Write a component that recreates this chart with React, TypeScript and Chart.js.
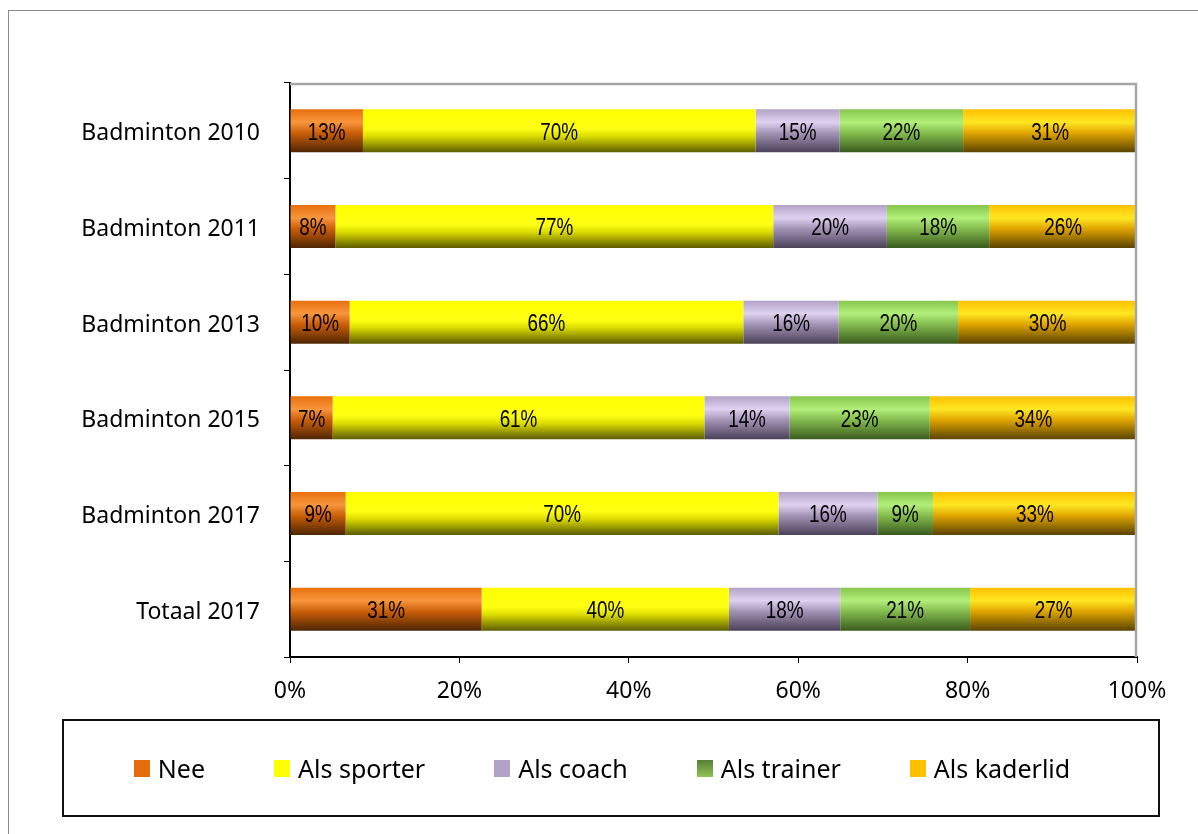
import React, { useEffect, useRef } from 'react';
import { Chart, registerables } from 'chart.js';

Chart.register(...registerables);

// ---- data ----
const categories = ['Badminton 2010', 'Badminton 2011', 'Badminton 2013', 'Badminton 2015', 'Badminton 2017', 'Totaal 2017'];
const seriesNames = ['Nee', 'Als sporter', 'Als coach', 'Als trainer', 'Als kaderlid'];
const nee = [13, 8, 10, 7, 9, 31];
const alsSporter = [70, 77, 66, 61, 70, 40];
const alsCoach = [15, 20, 16, 14, 16, 18];
const alsTrainer = [22, 18, 20, 23, 9, 21];
const alsKaderlid = [31, 26, 30, 34, 33, 27];
const xTickValues = [0, 20, 40, 60, 80, 100];

const seriesValues = [nee, alsSporter, alsCoach, alsTrainer, alsKaderlid];

// ---- styles ----
const BAR_PCT = 0.45;
const gradientStops: [number, string][][] = [
  [[0, '#E8700C'], [0.3, '#F8963D'], [0.55, '#CB5F09'], [1, '#4E2503']],
  [[0, '#FFFF00'], [0.45, '#FFFF14'], [0.62, '#DEDE00'], [1, '#5C5C00']],
  [[0, '#B3A2C7'], [0.3, '#DED2F0'], [0.55, '#A394B6'], [1, '#4A4158']],
  [[0, '#86C64C'], [0.3, '#B2EF7A'], [0.55, '#84BC4E'], [1, '#3A5A1E']],
  [[0, '#FFC000'], [0.3, '#FFE722'], [0.55, '#E0A500'], [1, '#5A4300']],
];
const solidColors = ['#E46C0A', '#FFFF00', '#B3A2C7', '#77A843', '#FFC000'];
const legendSwatches = [
  '#E46C0A',
  '#FFFF00',
  '#B3A2C7',
  'linear-gradient(#5B7D37, #8CC556)',
  '#FFC000',
];
const labelFont = '"Noto Sans", "Open Sans", sans-serif';

const makeBg = (stops: [number, string][], fallback: string) => (ctx: any) => {
  const chart = ctx.chart;
  const ys = chart.scales && chart.scales.y;
  if (!chart.chartArea || !ys || ctx.dataIndex === undefined) return fallback;
  const c = ys.getPixelForValue(ctx.dataIndex);
  const h = (ys.height / categories.length) * BAR_PCT;
  const g = chart.ctx.createLinearGradient(0, c - h / 2, 0, c + h / 2);
  stops.forEach(([o, col]) => g.addColorStop(o, col));
  return g;
};

const plotFrame = {
  id: 'plotFrame',
  afterDatasetsDraw(chart: any) {
    const { ctx, chartArea: a } = chart;
    ctx.save();
    ctx.strokeStyle = '#a6a6a6';
    ctx.lineWidth = 2.5;
    ctx.beginPath();
    ctx.moveTo(a.left, a.top + 1);
    ctx.lineTo(a.right - 1, a.top + 1);
    ctx.lineTo(a.right - 1, a.bottom);
    ctx.stroke();
    ctx.restore();
  },
};

const valueLabels = {
  id: 'valueLabels',
  afterDatasetsDraw(chart: any) {
    const ctx = chart.ctx;
    chart.data.datasets.forEach((_ds: any, di: number) => {
      const meta = chart.getDatasetMeta(di);
      meta.data.forEach((el: any, i: number) => {
        const { x, y, base } = el.getProps(['x', 'y', 'base'], true);
        const cx = (x + base) / 2;
        ctx.save();
        ctx.translate(cx, y + 2.5);
        ctx.scale(0.82, 1);
        ctx.font = '23px "Liberation Sans", Arial, sans-serif';
        ctx.textAlign = 'center';
        ctx.textBaseline = 'middle';
        ctx.fillStyle = '#000';
        ctx.fillText(seriesValues[di][i] + '%', 0, 0);
        ctx.restore();
      });
    });
  },
};

export default function App() {
  const canvasRef = useRef<HTMLCanvasElement | null>(null);

  useEffect(() => {
    if (!canvasRef.current) return;
    const totals = categories.map((_, i) => seriesValues.reduce((s, arr) => s + arr[i], 0));
    const chart = new Chart(canvasRef.current, {
      type: 'bar',
      data: {
        labels: categories,
        datasets: seriesNames.map((name, si) => ({
          label: name,
          data: seriesValues[si].map((v, i) => (v / totals[i]) * 100),
          backgroundColor: makeBg(gradientStops[si], solidColors[si]),
          borderWidth: 0,
          barPercentage: BAR_PCT,
          categoryPercentage: 1,
        })),
      },
      options: {
        indexAxis: 'y',
        responsive: false,
        animation: false,
        events: [],
        layout: { padding: { top: 83, right: 61, bottom: 117, left: 0 } },
        plugins: {
          legend: { display: false },
          tooltip: { enabled: false },
          title: { display: false },
        },
        scales: {
          x: {
            stacked: true,
            min: 0,
            max: 100,
            afterBuildTicks: (s: any) => {
              s.ticks = xTickValues.map((v) => ({ value: v }));
            },
            ticks: {
              callback: (v: any) => v + '%',
              color: '#000',
              font: { family: labelFont, size: 23 },
              padding: 15,
              maxRotation: 0,
              autoSkip: false,
            },
            grid: { drawOnChartArea: false, drawTicks: true, tickLength: 6, color: '#000', lineWidth: 1 },
            border: { color: '#000', width: 2 },
            afterFit: (s: any) => {
              s.height = 60;
            },
          },
          y: {
            stacked: true,
            ticks: {
              color: '#000',
              font: { family: labelFont, size: 23 },
              padding: 24,
              labelOffset: 3,
            },
            grid: { drawOnChartArea: false, drawTicks: true, tickLength: 6, color: '#000', lineWidth: 1, offset: true },
            border: { color: '#000', width: 2 },
            afterFit: (s: any) => {
              s.width = 290;
            },
          },
        },
      },
      plugins: [plotFrame, valueLabels],
    } as any);
    return () => chart.destroy();
  }, []);

  return (
    <div
      style={{
        position: 'fixed',
        left: 0,
        top: 0,
        width: 1198,
        height: 834,
        overflow: 'hidden',
        background: '#fff',
      }}
    >
      <div
        style={{
          position: 'absolute',
          left: 8,
          top: 10,
          width: 1400,
          height: 1000,
          border: '1px solid #8a8a8a',
        }}
      />
      <canvas
        ref={canvasRef}
        width={1198}
        height={834}
        style={{ position: 'absolute', left: 0, top: 0, width: 1198, height: 834 }}
      />
      <div
        style={{
          position: 'absolute',
          left: 62,
          top: 719,
          width: 1098,
          height: 98,
          boxSizing: 'border-box',
          border: '2px solid #111',
          display: 'flex',
          alignItems: 'center',
          justifyContent: 'center',
          paddingRight: 18,
          fontFamily: labelFont,
          fontSize: 25,
          color: '#000',
        }}
      >
        {seriesNames.map((name, i) => (
          <div
            key={name}
            style={{
              display: 'flex',
              alignItems: 'center',
              marginRight: i < seriesNames.length - 1 ? 69 : 0,
            }}
          >
            <span
              style={{
                display: 'inline-block',
                width: 16,
                height: 17,
                background: legendSwatches[i],
                marginRight: 8,
              }}
            />
            <span style={{ lineHeight: 1 }}>{name}</span>
          </div>
        ))}
      </div>
    </div>
  );
}
